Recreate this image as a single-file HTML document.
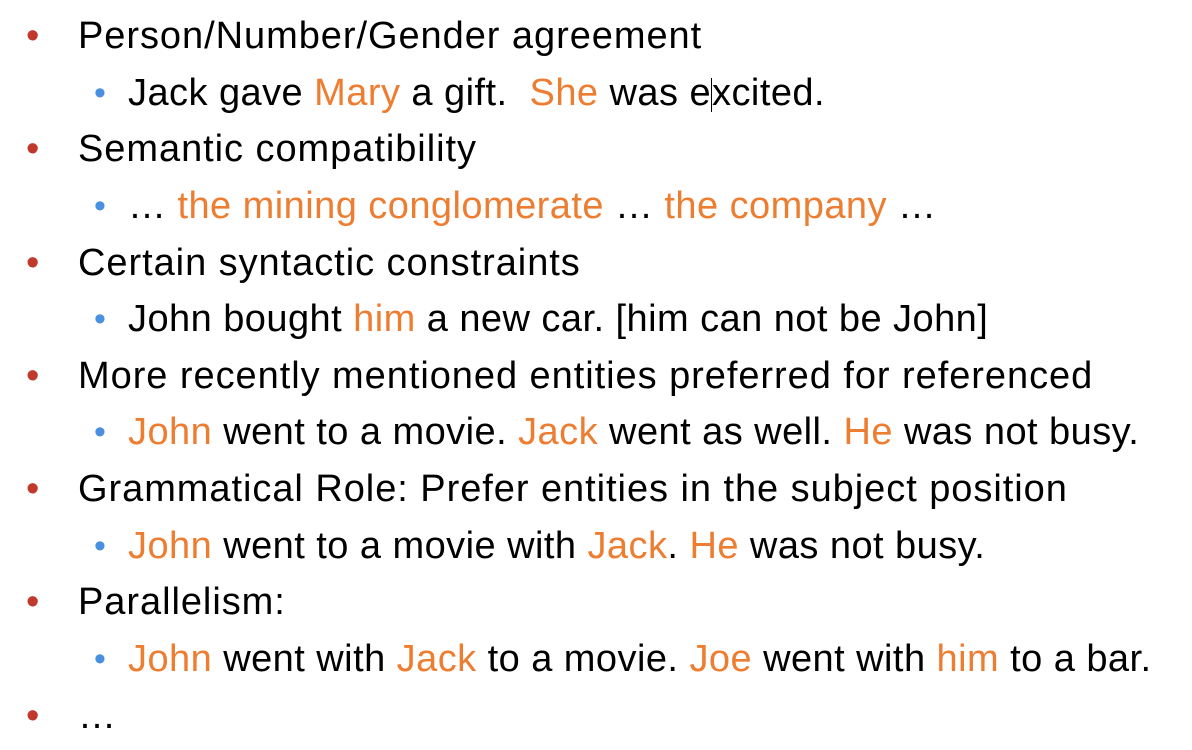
<!DOCTYPE html>
<html><head><meta charset="utf-8"><style>
html,body{margin:0;padding:0;background:#fff;width:1192px;height:750px;overflow:hidden}
body{font-family:"Liberation Sans",Arial,sans-serif;font-size:38px;letter-spacing:0.95px;color:#000;position:relative}
.l{position:absolute;height:57px;line-height:57px;white-space:nowrap}
.b1{position:absolute;left:-52px;color:#c0392b;font-size:38px}
.b2{position:absolute;left:-34px;color:#4a90e2;font-size:34px}
.o{color:#ed7d31}
.lv1{left:78px}.lv2{left:128px;letter-spacing:0.45px}
</style></head><body>
<div class="l lv1" style="top:8px"><span class="b1">•</span>Person/Number/Gender agreement</div>
<div class="l lv2" style="top:65px"><span class="b2">•</span>Jack gave <span class="o">Mary</span> a gift.&nbsp; <span class="o">She</span> was e<span style="display:inline-block;width:0;border-left:1px solid #000;height:34px;vertical-align:middle"></span>xcited.</div>
<div class="l lv1" style="top:121px"><span class="b1">•</span>Semantic compatibility</div>
<div class="l lv2" style="top:178px"><span class="b2">•</span>… <span class="o">the mining conglomerate</span> … <span class="o">the company</span> …</div>
<div class="l lv1" style="top:235px"><span class="b1">•</span>Certain syntactic constraints</div>
<div class="l lv2" style="top:291px"><span class="b2">•</span>John bought <span class="o">him</span> a new car. [him can not be John]</div>
<div class="l lv1" style="top:348px"><span class="b1">•</span>More recently mentioned entities preferred for referenced</div>
<div class="l lv2" style="top:404px"><span class="b2">•</span><span class="o">John</span> went to a movie. <span class="o">Jack</span> went as well. <span class="o">He</span> was not busy.</div>
<div class="l lv1" style="top:461px"><span class="b1">•</span>Grammatical Role: Prefer entities in the subject position</div>
<div class="l lv2" style="top:518px"><span class="b2">•</span><span class="o">John</span> went to a movie with <span class="o">Jack</span>. <span class="o">He</span> was not busy.</div>
<div class="l lv1" style="top:574px"><span class="b1">•</span>Parallelism:</div>
<div class="l lv2" style="top:631px"><span class="b2">•</span><span class="o">John</span> went with <span class="o">Jack</span> to a movie. <span class="o">Joe</span> went with <span class="o">him</span> to a bar.</div>
<div class="l lv1" style="top:688px"><span class="b1">•</span>…</div>
</body></html>
